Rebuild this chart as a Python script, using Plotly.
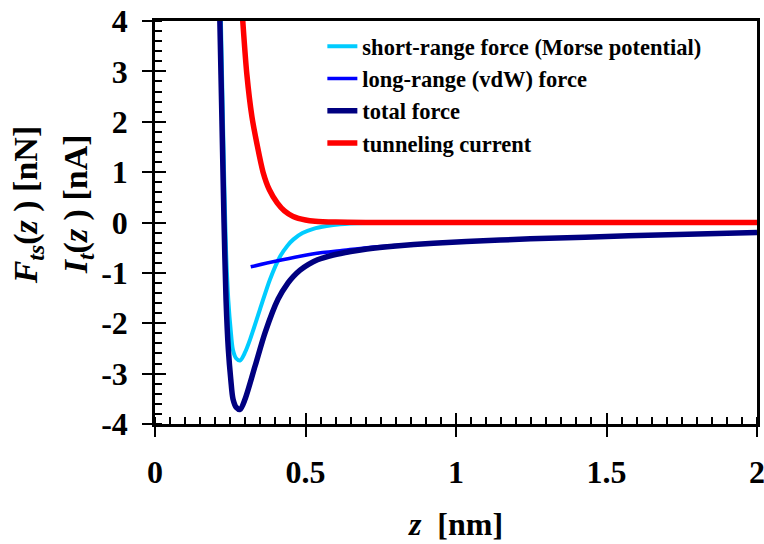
import plotly.graph_objects as go

# ---- data ----
z_short = [0.2125, 0.2155, 0.2225, 0.2294, 0.236, 0.2437, 0.2517, 0.259, 0.27, 0.2826,
           0.299, 0.316, 0.349, 0.382, 0.416, 0.44, 0.46, 0.49, 0.526, 0.57, 0.615, 0.7,
           0.8, 1.0, 1.5, 2.0]
f_short = [5.8, 5.0, 3.0, 1.0, -0.55, -1.55, -2.15, -2.53, -2.70, -2.74,
           -2.58, -2.32, -1.72, -1.13, -0.67, -0.46, -0.335, -0.21, -0.125, -0.07, -0.035, -0.01,
           -0.003, 0.0, 0.0, 0.0]

z_long = [0.318, 0.4, 0.482, 0.55, 0.615, 0.704, 0.8, 0.925, 1.147, 1.573, 2.0]
f_long = [-0.88, -0.77, -0.67, -0.60, -0.56, -0.50, -0.455, -0.405, -0.345, -0.265, -0.20]

z_total = [0.2125, 0.2155, 0.2225, 0.2294, 0.236, 0.2437, 0.2517, 0.259, 0.27, 0.2826,
           0.299, 0.3325, 0.366, 0.409, 0.442, 0.46, 0.482, 0.51, 0.54, 0.592, 0.65, 0.704,
           0.8, 0.925, 1.147, 1.247, 1.573, 2.0]
f_total = [4.8, 4.0, 2.0, 0.0, -1.53, -2.52, -3.11, -3.5, -3.67, -3.71,
           -3.51, -2.85, -2.18, -1.52, -1.20, -1.07, -0.945, -0.83, -0.74, -0.646, -0.575, -0.525,
           -0.465, -0.41, -0.348, -0.325, -0.265, -0.20]

z_current = [0.285, 0.2916, 0.305, 0.322, 0.338, 0.359, 0.38, 0.406, 0.43, 0.459, 0.5,
             0.532, 0.6, 0.7, 1.0, 1.5, 2.0]
i_current = [4.6, 4.0, 2.95, 2.1, 1.58, 1.0, 0.65, 0.39, 0.23, 0.12, 0.05,
             0.025, 0.008, 0.0, 0.0, 0.0, 0.0]

x_tickvals = [0, 0.5, 1, 1.5, 2]
x_ticktext = ["0", "0.5", "1", "1.5", "2"]
y_tickvals = [-4, -3, -2, -1, 0, 1, 2, 3, 4]
y_ticktext = ["-4", "-3", "-2", "-1", "0", "1", "2", "3", "4"]

names = ["short-range force (Morse potential)", "long-range (vdW) force",
         "total force", "tunneling current"]
y_title_lines = ["<i>F</i><sub><i>ts</i></sub>(<i>z</i> ) [nN]",
                 "<i>I</i><sub><i>t</i></sub>(<i>z</i> ) [nA]"]
x_title = "<i>z</i>\u00a0 [nm]"

FONT = "Liberation Serif"
SM = 0.8

fig = go.Figure()
fig.add_trace(go.Scatter(x=z_short, y=f_short, mode="lines", name=names[0],
                         line=dict(color="#00CCFF", width=4, shape="spline", smoothing=SM)))
fig.add_trace(go.Scatter(x=z_long, y=f_long, mode="lines", name=names[1],
                         line=dict(color="#0000FF", width=3.5, shape="spline", smoothing=SM)))
fig.add_trace(go.Scatter(x=z_total, y=f_total, mode="lines", name=names[2],
                         line=dict(color="#000080", width=5.5, shape="spline", smoothing=SM)))
fig.add_trace(go.Scatter(x=z_current, y=i_current, mode="lines", name=names[3],
                         xaxis="x2", yaxis="y2",
                         line=dict(color="#FF0000", width=5.5, shape="spline", smoothing=SM)))

tickfont = dict(family=FONT, size=32, color="black", weight="bold")
titlefont = dict(family=FONT, size=34, color="black", weight="bold")

fig.update_layout(
    width=764, height=544,
    margin=dict(l=155, r=7, t=21, b=120, autoexpand=False),
    paper_bgcolor="white", plot_bgcolor="white",
    font=dict(family=FONT, color="black"),
    showlegend=True,
    legend=dict(x=0.278, y=0.99, xanchor="left", yanchor="top",
                bgcolor="rgba(0,0,0,0)", borderwidth=0,
                font=dict(family=FONT, size=22.5, color="black", weight="bold"),
                tracegroupgap=0, itemwidth=30),
    xaxis=dict(range=[0, 2], tickvals=x_tickvals, ticktext=x_ticktext,
               automargin=False, ticklabeloverflow="allow",
               showline=True, linecolor="black", linewidth=2.5, mirror=True,
               ticks="outside", ticklen=10, tickwidth=2, tickcolor="black",
               minor=dict(ticks="inside", dtick=0.05, tick0=0, ticklen=7,
                          tickwidth=1.5, tickcolor="black"),
               showgrid=False, zeroline=False, tickfont=tickfont,
               ticklabelstandoff=8,
               title=dict(text=x_title, standoff=24,
                          font=dict(family=FONT, size=32, color="black", weight="bold"))),
    yaxis=dict(range=[-4, 4], tickvals=y_tickvals, ticktext=y_ticktext,
               automargin=False, ticklabeloverflow="allow",
               showline=True, linecolor="black", linewidth=2.5, mirror=True,
               ticks="outside", ticklen=10, tickwidth=2, tickcolor="black",
               minor=dict(ticks="inside", dtick=0.2, tick0=0, ticklen=7,
                          tickwidth=1.5, tickcolor="black"),
               showgrid=False, zeroline=False, tickfont=tickfont,
               ticklabelstandoff=8),
    xaxis2=dict(range=[0, 2], overlaying="x", anchor="y2", tickvals=x_tickvals,
                automargin=False,
                showticklabels=False, ticks="inside", ticklen=11, tickwidth=2,
                tickcolor="black", showline=False, showgrid=False, zeroline=False),
    yaxis2=dict(range=[-4, 4], overlaying="y", anchor="x2", tickvals=y_tickvals,
                automargin=False,
                showticklabels=False, ticks="inside", ticklen=11, tickwidth=2,
                tickcolor="black", showline=False, showgrid=False, zeroline=False),
)

# two-line y-axis title, placed as rotated text beside the axis
for xp, line in zip([-0.211, -0.128], y_title_lines):
    fig.add_annotation(text=line, xref="paper", yref="paper", x=xp, y=0.545,
                       xanchor="center", yanchor="middle", textangle=-90,
                       showarrow=False, font=titlefont)

fig.write_html("out.html", config={"displayModeBar": False},
               post_script="document.body.style.margin='0';")
